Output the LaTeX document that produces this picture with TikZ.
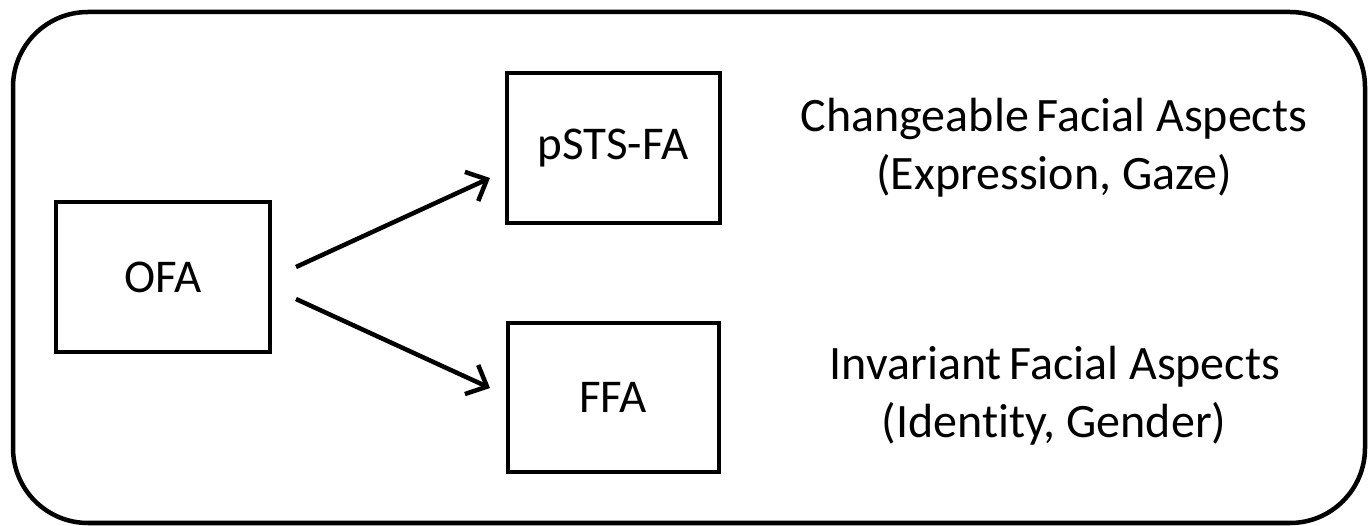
\documentclass[tikz,border=0pt]{standalone}
\usepackage{fontspec}
\setmainfont{Carlito}[Ligatures=NoCommon]
\usetikzlibrary{arrows.meta}
\begin{document}
\begin{tikzpicture}[x=1pt,y=-1pt,
  region/.style={draw=black,line width=4.5pt,rounded corners=75pt},
  area/.style={draw=black,line width=4pt,inner sep=0pt,font=\fontsize{47}{56}\selectfont},
  link/.style={line width=4.5pt,-{Straight Barb[length=17pt,width=32pt,line width=4.5pt]}},
  desc/.style={font=\fontsize{48}{58}\selectfont,inner sep=0pt,anchor=base}]
\useasboundingbox (0,0) rectangle (1369,526);
\draw[region] (13,12) rectangle (1365,523);
\node[area,minimum width=214pt,minimum height=150pt] (ofa) at (163,277) {OFA};
\node[area,minimum width=213pt,minimum height=150pt] (psts) at (613,148) {pSTS-FA};
\node[area,minimum width=211pt,minimum height=149pt] (ffa) at (613,397.5) {FFA};
\coordinate (a1) at (296,267);
\coordinate (a2) at (296,299);
\coordinate (t1) at (490,178);
\coordinate (t2) at (490,388);
\draw[link] (a1) -- (t1);
\draw[link] (a2) -- (t2);
\node[desc] (chg1) at (1054,132) {Changeable\kern-0.07em{} Facial Aspects};
\node[desc] (chg2) at (1054,190) {(Expression, Gaze)};
\node[desc] (inv1) at (1055,380) {Invariant\kern-0.07em{} Facial Aspects};
\node[desc] (inv2) at (1054,438) {(Identity, Gender)};
\end{tikzpicture}
\end{document}
